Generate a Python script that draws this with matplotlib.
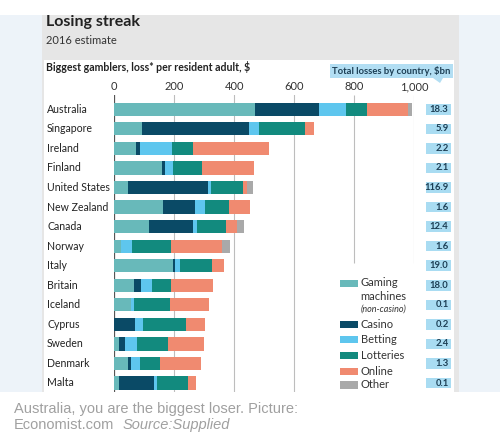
import numpy as np
import matplotlib
matplotlib.use("Agg")
import matplotlib.pyplot as plt
from matplotlib.patches import Rectangle, Polygon
from matplotlib.transforms import blended_transform_factory

countries = ["Australia", "Singapore", "Ireland", "Finland", "United States",
             "New Zealand", "Canada", "Norway", "Italy", "Britain", "Iceland",
             "Cyprus", "Sweden", "Denmark", "Malta"]
gaming = [470, 91, 72, 158, 47, 161, 117, 21, 194, 67, 54, 0, 17, 47, 17]
casino = [213, 357, 14, 11, 265, 109, 146, 0, 7, 21, 0, 69, 19, 10, 115]
betting = [89, 34, 105, 25, 9, 33, 14, 37, 18, 36, 13, 28, 38, 29, 11]
lotteries = [69, 154, 70, 98, 107, 78, 95, 131, 108, 65, 119, 141, 104, 66, 104]
online = [139, 30, 253, 174, 13, 71, 36, 169, 39, 141, 129, 64, 121, 137, 25]
other = [11, 0, 0, 0, 22, 0, 24, 28, 0, 0, 0, 0, 0, 0, 0]
totals = ["18.3", "5.9", "2.2", "2.1", "116.9", "1.6", "12.4", "1.6", "19.0",
          "18.0", "0.1", "0.2", "2.4", "1.3", "0.1"]
ticks = [0, 200, 400, 600, 800, 1000]
tick_labels = ["0", "200", "400", "600", "800", "1,000"]

series = [("Gaming", gaming, "#68b9ba"), ("Casino", casino, "#0a4a66"),
          ("Betting", betting, "#5ec6ee"), ("Lotteries", lotteries, "#128a7e"),
          ("Online", online, "#f08a70"), ("Other", other, "#a9a9a9")]

plt.rcParams['font.family'] = ['Lato', 'DejaVu Sans']

W, H = 500, 443
fig = plt.figure(figsize=(5, 4.43), dpi=100)
fig.patch.set_facecolor("white")

def fx(px):
    return px / W

def fy(py):
    return 1 - py / H

# backgrounds
fig.patches.append(Rectangle((0, fy(392)), 1, fy(15) - fy(392), transform=fig.transFigure,
                             facecolor="#edf3f9", edgecolor="none", zorder=-3))
fig.patches.append(Rectangle((fx(42), fy(392)), fx(417), fy(15) - fy(392), transform=fig.transFigure,
                             facecolor="#e6e6e6", edgecolor="none", zorder=-2))
fig.patches.append(Rectangle((fx(44), fy(392)), fx(410), fy(60) - fy(392), transform=fig.transFigure,
                             facecolor="white", edgecolor="none", zorder=-1))

fig.text(fx(46), fy(22), "Losing streak", fontsize=11.5, fontweight="bold", color="#222222", va="center")
fig.text(fx(46), fy(40), "2016 estimate", fontsize=8, color="#333333", va="center")
fig.text(fx(46), fy(67), "Biggest gamblers, loss* per resident adult, $", fontsize=7.6,
         fontweight="bold", color="#222222", va="center")

# header box for totals
fig.patches.append(Rectangle((fx(330), fy(78)), fx(123), fy(64) - fy(78), transform=fig.transFigure,
                             facecolor="#b2def3", edgecolor="none"))
fig.patches.append(Polygon([(fx(433), fy(78)), (fx(443), fy(78)), (fx(440), fy(83))], closed=True,
                           transform=fig.transFigure, facecolor="#b2def3", edgecolor="none"))
fig.text(fx(391), fy(71), "Total losses by country, $bn", fontsize=6.8, fontweight="bold",
         color="#1d3f55", ha="center", va="center")

# bar axes
y_top, y_bot = 95, 392
row0, step = 109.3, 19.55
ax = fig.add_axes([fx(114.3), fy(y_bot), fx(300), fy(y_top) - fy(y_bot)])
ax.set_xlim(0, 1000)
ax.set_ylim((y_bot - row0) / step, (y_top - row0) / step)
ax.set_facecolor("none")
for s in ax.spines.values():
    s.set_visible(False)

y = np.arange(len(countries))
cut = (263 - row0) / step
for t in ticks:
    if t == 0:
        ax.axvline(0, color="#555555", lw=0.9, zorder=0)
    elif t >= 800:
        ax.vlines(t, ax.get_ylim()[1], cut, color="#bdbdbd", lw=0.8, zorder=0)
    else:
        ax.axvline(t, color="#bdbdbd", lw=0.8, zorder=0)

left = np.zeros(len(countries))
for name, vals, col in series:
    vals = np.array(vals, dtype=float)
    ax.barh(y, vals, left=left, height=0.68, color=col, edgecolor="none", zorder=2)
    left += vals

ax.xaxis.tick_top()
ax.set_xticks(ticks)
ax.set_xticklabels(tick_labels, fontsize=8, color="#333333")
ax.tick_params(axis="x", length=0, pad=2)
ax.set_yticks([])

bt = blended_transform_factory(fig.transFigure, ax.transData)
for i, c in enumerate(countries):
    ax.text(fx(47), i, c, transform=bt, fontsize=7.6, color="#222222", va="center", ha="left")
    ax.add_patch(Rectangle((fx(426), i - 0.27), fx(25), 0.54, transform=bt,
                           facecolor="#a9dcf2", edgecolor="none", clip_on=False))
    ax.text(fx(448.5), i, totals[i], transform=bt, fontsize=6.8, fontweight="bold",
            color="#1d3f55", va="center", ha="right")

# legend
leg = [("Gaming", 283), ("Casino", 324), ("Betting", 339.5),
       ("Lotteries", 355.5), ("Online", 371.5), ("Other", 385)]
cols = {n: c for n, v, c in series}
for name, ypx in leg:
    fig.patches.append(Rectangle((fx(340), fy(ypx + 3.5)), fx(18), fy(ypx - 3.5) - fy(ypx + 3.5),
                                 transform=fig.transFigure, facecolor=cols[name], edgecolor="none"))
    fig.text(fx(360.5), fy(ypx), name, fontsize=8, color="#333333", va="center")
fig.text(fx(360.5), fy(296), "machines", fontsize=8, color="#333333", va="center")
fig.text(fx(360.5), fy(309), "(non-casino)", fontsize=6.5, style="italic", color="#333333", va="center")

# caption
fig.text(fx(14), fy(409), "Australia, you are the biggest loser. Picture:", fontsize=10.5,
         color="#a0a0a0", family="Liberation Sans", va="center")
fig.text(fx(14), fy(425), "Economist.com", fontsize=10.5, color="#a0a0a0",
         family="Liberation Sans", va="center")
fig.text(fx(123), fy(425), "Source:Supplied", fontsize=10.5, color="#a0a0a0", style="italic",
         family="Liberation Sans", va="center")

fig.savefig("out.png", dpi=100)
